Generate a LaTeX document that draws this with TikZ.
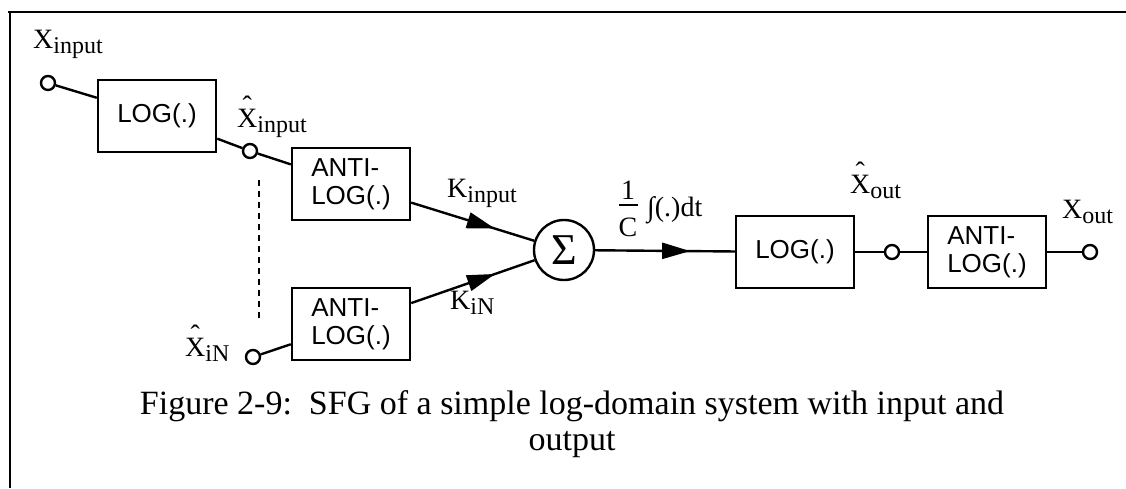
\documentclass[tikz,border=0pt]{standalone}
\usepackage{fontspec}
\setmainfont{Liberation Serif}
\newfontfamily\blkfont{Liberation Sans}
\usetikzlibrary{arrows.meta,decorations.markings}

% 下标：字号略小，向下偏移
\newcommand{\lsub}[1]{\raisebox{-5pt}{\fontsize{24}{24}\selectfont #1}}
% 带帽的 X（帽子抬高）
\newcommand{\xhat}{\rlap{\kern5.5pt\raisebox{12pt}{ˆ}}X}

\tikzset{
  blk/.style={draw, line width=2.4pt, minimum width=118pt, minimum height=72pt,
    inner sep=0pt, align=left, font=\blkfont\fontsize{26}{28}\selectfont},
  port/.style={draw, circle, line width=2.4pt, minimum size=14pt, inner sep=0pt},
  lbl/.style={inner sep=0pt, anchor=base west, font=\fontsize{28}{30}\selectfont},
  wire/.style={line width=2.4pt},
  midarrow/.style={wire, postaction={decorate}, decoration={markings,
    mark=at position 0.68 with {\arrow{Triangle[length=28pt,width=16pt]}}}},
  captxt/.style={inner sep=0pt, anchor=base, font=\fontsize{34}{38}\selectfont},
}

\begin{document}
\begin{tikzpicture}[x=1pt, y=-1pt]
  \useasboundingbox (0,0) rectangle (1126,488);

  % 1. 外框（上边、左边）
  \draw[wire] (8,12) -- (1126,12);
  \draw[wire] (10,12) -- (10,488);

  % 2. 输入端：LOG 与两路 ANTI-LOG
  \node[port] (xin) at (48,83) {};
  \node[blk] (log1) at (157,116) {LOG(.)};
  \node[port] (xhi) at (250,151) {};
  \node[blk] (alog1) at (351,184) {ANTI-\\LOG(.)};
  \node[port] (xhn) at (253,357) {};
  \node[blk] (alog2) at (351,324) {ANTI-\\LOG(.)};

  % 省略的中间支路
  \coordinate (dtop) at (259,180);
  \coordinate (dbot) at (259,318);
  \draw[wire, dash pattern=on 6pt off 5pt] (dtop) -- (dbot);

  % 3. 求和与积分
  \node[draw, circle, line width=2.4pt, minimum size=60pt, inner sep=0pt,
    font=\fontsize{44}{44}\selectfont] (sig) at (564,250) {Σ};

  % 4. 输出端：LOG 与 ANTI-LOG
  \node[blk] (log2) at (795,252) {LOG(.)};
  \node[port] (xho) at (892,252) {};
  \node[blk] (alog3) at (987,252) {ANTI-\\LOG(.)};
  \node[port] (xout) at (1090,252) {};

  % 5. 连线
  \draw[wire] (xin) -- (log1);
  \draw[wire] (log1) -- (xhi);
  \draw[wire] (xhi) -- (alog1);
  \draw[wire] (xhn) -- (alog2);
  \draw[midarrow] (alog1) -- (sig);
  \draw[midarrow] (alog2) -- (sig);
  \draw[midarrow] (sig) -- (log2);
  \draw[wire] (log2) -- (xho);
  \draw[wire] (xho) -- (alog3);
  \draw[wire] (alog3) -- (xout);

  % 6. 变量标签
  \node[lbl] (lxin) at (33,48) {X\lsub{input}};
  \node[lbl] (lxhi) at (237,127) {\xhat\lsub{input}};
  \node[lbl] (lxhn) at (185,356) {\xhat\lsub{iN}};
  \node[lbl] (lkin) at (447,197) {K\lsub{input}};
  \node[lbl] (lkn) at (450,309) {K\lsub{iN}};
  \node[lbl] (lxho) at (850,193) {\xhat\lsub{out}};
  \node[lbl] (lxout) at (1062,218) {X\lsub{out}};

  % 积分增益 1/C
  \node[lbl, anchor=base] (one) at (628,199) {1};
  \node[lbl, anchor=base] (capc) at (628,236) {C};
  \draw[line width=1.8pt] (619,205) -- (638,205);
  \node[lbl] (intg) at (647,216) {∫(.)dt};

  % 7. 图题
  \node[captxt] (cap1) at (572,414)
    {Figure 2-9:\ \ SFG of a simple log-domain system with input and};
  \node[captxt] (cap2) at (572,450) {output};
\end{tikzpicture}
\end{document}
